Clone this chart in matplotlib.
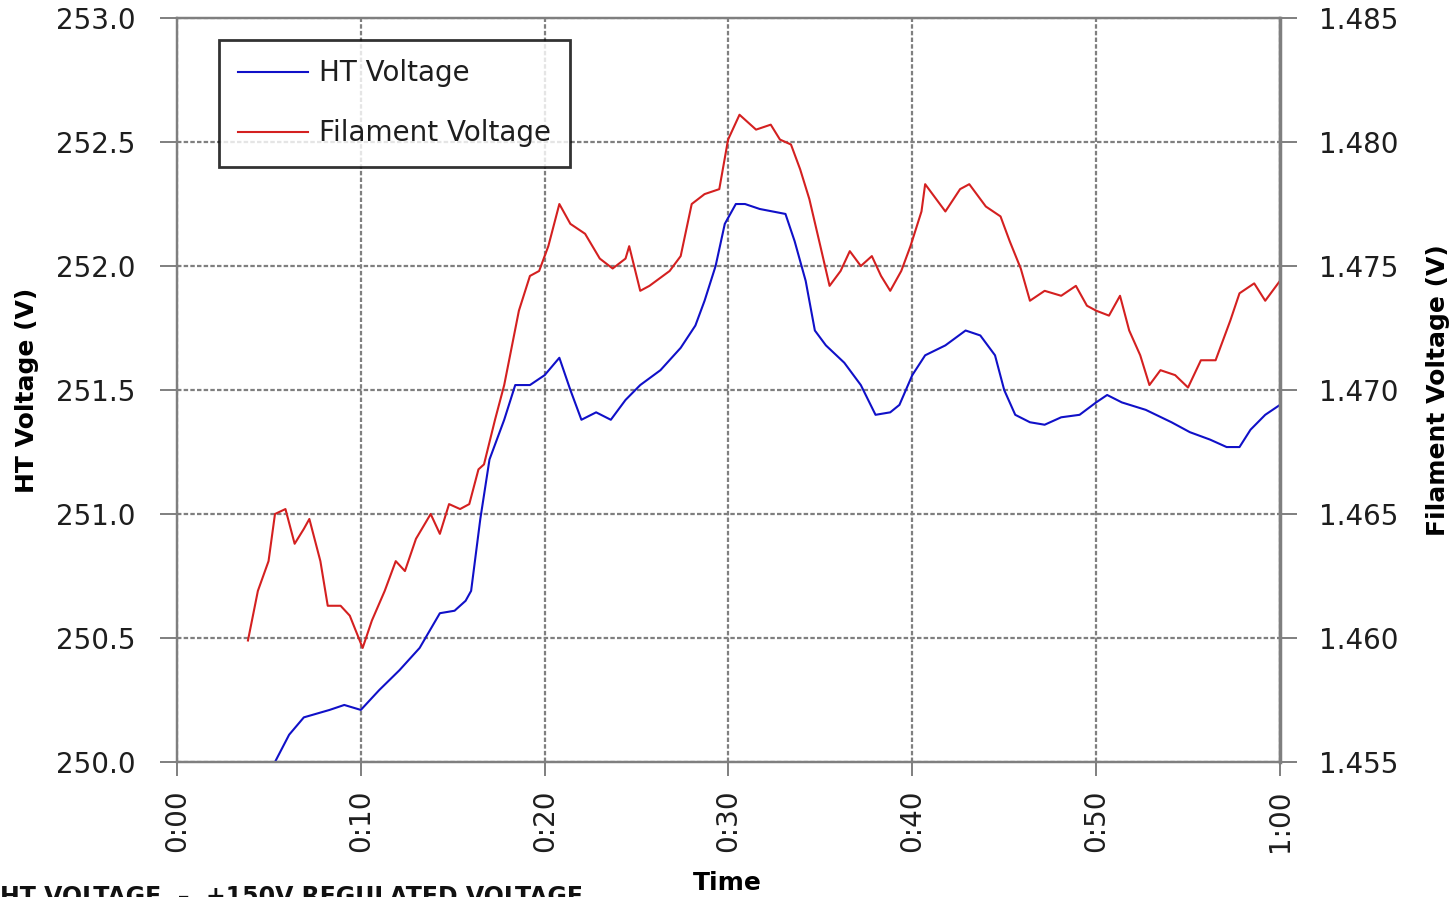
import matplotlib
matplotlib.use("Agg")
import matplotlib.pyplot as plt

# time in minutes, HT voltage (V)
ht_time = [5.33, 6.1, 6.9, 8.3, 9.1, 10.0, 11.0, 12.1, 13.2, 14.3, 15.1, 15.7, 16.0, 16.5,
           17.0, 17.8, 18.4, 19.2, 20.0, 20.8, 21.4, 22.0, 22.8, 23.6, 24.4, 25.2, 26.3,
           27.4, 28.2, 28.7, 29.3, 29.8, 30.4, 30.9, 31.7, 33.1, 33.6, 34.2, 34.7, 35.3,
           36.3, 37.2, 38.0, 38.8, 39.3, 40.0, 40.7, 41.8, 42.9, 43.7, 44.5, 45.0, 45.6,
           46.4, 47.2, 48.1, 49.1, 50.0, 50.6, 51.4, 52.7, 54.1, 55.1, 56.2, 57.1, 57.8,
           58.4, 59.2, 60.0]
ht_volts = [250.00, 250.11, 250.18, 250.21, 250.23, 250.21, 250.29, 250.37, 250.46, 250.60,
            250.61, 250.65, 250.69, 250.98, 251.22, 251.38, 251.52, 251.52, 251.56, 251.63,
            251.50, 251.38, 251.41, 251.38, 251.46, 251.52, 251.58, 251.67, 251.76, 251.86,
            252.00, 252.17, 252.25, 252.25, 252.23, 252.21, 252.10, 251.94, 251.74, 251.68,
            251.61, 251.52, 251.40, 251.41, 251.44, 251.56, 251.64, 251.68, 251.74, 251.72,
            251.64, 251.50, 251.40, 251.37, 251.36, 251.39, 251.40, 251.45, 251.48, 251.45,
            251.42, 251.37, 251.33, 251.30, 251.27, 251.27, 251.34, 251.40, 251.44]

# time in minutes, filament voltage (V)
fil_time = [3.86, 4.4, 4.98, 5.33, 5.9, 6.4, 6.9, 7.2, 7.8, 8.2, 8.9, 9.4, 10.1, 10.6, 11.3,
            11.9, 12.4, 13.0, 13.8, 14.3, 14.8, 15.4, 15.9, 16.4, 16.7, 17.3, 17.8, 18.6,
            19.2, 19.7, 20.2, 20.8, 21.4, 22.2, 23.0, 23.7, 24.4, 24.6, 25.2, 25.7, 26.8,
            27.4, 28.0, 28.7, 29.5, 29.98, 30.6, 31.5, 32.3, 32.8, 33.4, 33.9, 34.4, 35.0,
            35.5, 36.1, 36.6, 37.2, 37.8, 38.3, 38.8, 39.4, 39.9, 40.5, 40.7, 41.3, 41.8,
            42.6, 43.1, 44.0, 44.8, 45.3, 45.9, 46.4, 47.2, 48.1, 48.9, 49.5, 50.0, 50.7,
            51.3, 51.8, 52.4, 52.9, 53.5, 54.3, 55.0, 55.7, 56.5, 57.3, 57.8, 58.6, 59.2,
            60.0]
fil_volts = [1.4599, 1.4619, 1.4631, 1.4650, 1.4652, 1.4638, 1.4644, 1.4648, 1.4631,
             1.4613, 1.4613, 1.4609, 1.4596, 1.4607, 1.4619, 1.4631, 1.4627, 1.4640,
             1.4650, 1.4642, 1.4654, 1.4652, 1.4654, 1.4668, 1.4670, 1.4688, 1.4702,
             1.4732, 1.4746, 1.4748, 1.4758, 1.4775, 1.4767, 1.4763, 1.4753, 1.4749,
             1.4753, 1.4758, 1.4740, 1.4742, 1.4748, 1.4754, 1.4775, 1.4779, 1.4781,
             1.4801, 1.4811, 1.4805, 1.4807, 1.4801, 1.4799, 1.4789, 1.4777, 1.4758,
             1.4742, 1.4748, 1.4756, 1.4750, 1.4754, 1.4746, 1.4740, 1.4748, 1.4758,
             1.4772, 1.4783, 1.4777, 1.4772, 1.4781, 1.4783, 1.4774, 1.4770, 1.4760,
             1.4749, 1.4736, 1.4740, 1.4738, 1.4742, 1.4734, 1.4732, 1.4730, 1.4738,
             1.4724, 1.4714, 1.4702, 1.4708, 1.4706, 1.4701, 1.4712, 1.4712, 1.4728,
             1.4739, 1.4743, 1.4736, 1.4744]

x_ticks = list(range(0, 61, 10))
x_labels = ["0:00", "0:10", "0:20", "0:30", "0:40", "0:50", "1:00"]
ht_ticks = [250.0, 250.5, 251.0, 251.5, 252.0, 252.5, 253.0]
fil_ticks = [1.455, 1.460, 1.465, 1.470, 1.475, 1.480, 1.485]

grid_col = "#7f7f7f"
txt_col = "#1e1e1e"

fig = plt.figure(figsize=(14.52, 8.97), dpi=100)
ax = fig.add_axes([0.1219, 0.1505, 0.7596, 0.8294])
ax2 = ax.twinx()

l1, = ax.plot(ht_time, ht_volts, color="#1010c8", lw=1.5, label="HT Voltage")
l2, = ax2.plot(fil_time, fil_volts, color="#d42020", lw=1.5, label="Filament Voltage")

ax.set_xlim(0, 60)
ax.set_ylim(250.0, 253.0)
ax2.set_ylim(1.455, 1.485)

ax.set_xticks(x_ticks)
ax.set_xticklabels(x_labels, rotation=90, fontsize=20)
ax.set_yticks(ht_ticks)
ax.set_yticklabels(["%.1f" % v for v in ht_ticks], fontsize=20)
ax2.set_yticks(fil_ticks)
ax2.set_yticklabels(["%.3f" % v for v in fil_ticks], fontsize=20)

ax.grid(True, color=grid_col, linestyle=(0, (2, 1)), lw=1.6)
for a in (ax, ax2):
    for s in a.spines.values():
        s.set_color(grid_col)
        s.set_linestyle((0, (2, 1)))
        s.set_linewidth(1.6)
ax2.spines["right"].set_linestyle("-")
ax2.spines["right"].set_linewidth(2.5)
ax.tick_params(axis="y", colors=grid_col, labelcolor=txt_col, length=12, width=1.4, pad=18)
ax2.tick_params(axis="y", colors=grid_col, labelcolor=txt_col, length=12, width=1.4, pad=16)
ax.tick_params(axis="x", colors=grid_col, labelcolor=txt_col, length=10, width=1.4, pad=10)

ax.set_ylabel("HT Voltage (V)", fontsize=18, fontweight="bold", labelpad=12)
ax2.set_ylabel("Filament Voltage (V)", fontsize=18, fontweight="bold", labelpad=20)
fig.text(0.5007, 0.0155, "Time", fontsize=18, fontweight="bold", ha="center", va="center")

leg = ax2.legend(handles=[l1, l2], loc="upper left",
                 bbox_to_anchor=(219 / 1452, 1 - 40 / 897), bbox_transform=fig.transFigure,
                 fontsize=20, frameon=True, fancybox=False, handlelength=2.5,
                 labelspacing=1.15, borderpad=0.7, handletextpad=0.4, borderaxespad=0)
leg.get_frame().set_edgecolor("black")
leg.get_frame().set_linewidth(2)
for t in leg.get_texts():
    t.set_color(txt_col)

# caption running off the bottom edge
fig.text(0.0, 1 - 885 / 897, "HT VOLTAGE  \u2013  +150V REGULATED VOLTAGE", fontsize=17,
         fontweight="bold", ha="left", va="top", color="#111111")

fig.savefig("out.png", dpi=100)
